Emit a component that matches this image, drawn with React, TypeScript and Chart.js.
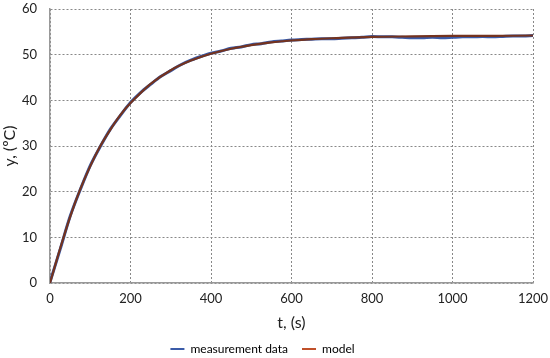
import React, { useEffect, useRef } from "react";
import { Chart, registerables } from "chart.js";

Chart.register(...registerables);

const measTime = [0, 25, 50, 75, 100, 125, 150, 175, 200, 225, 250, 275, 300, 325, 350, 375, 400, 425, 450, 475, 500, 525, 550, 575, 600, 625, 650, 675, 700, 725, 750, 775, 800, 825, 850, 875, 900, 925, 950, 975, 1000, 1025, 1050, 1075, 1100, 1125, 1150, 1175, 1200];
const measTemp = [0.2, 7.3, 14.6, 20.4, 25.7, 29.9, 33.7, 36.7, 39.5, 41.7, 43.5, 45.2, 46.5, 47.8, 48.8, 49.6, 50.3, 50.8, 51.4, 51.7, 52.2, 52.4, 52.8, 53.0, 53.2, 53.3, 53.4, 53.5, 53.5, 53.6, 53.7, 53.8, 54.0, 53.9, 53.9, 53.8, 53.7, 53.7, 53.8, 53.7, 53.8, 53.9, 53.9, 54.0, 53.9, 54.0, 54.1, 54.1, 54.2];

const modelTime = [0, 25, 50, 75, 100, 125, 150, 175, 200, 250, 300, 350, 400, 450, 500, 550, 600, 650, 700, 800, 900, 1000, 1100, 1200];
const modelTemp = [0, 7.5, 14.5, 20.5, 25.6, 30.0, 33.6, 36.8, 39.4, 43.6, 46.6, 48.7, 50.2, 51.3, 52.1, 52.7, 53.1, 53.4, 53.6, 53.9, 54.0, 54.1, 54.1, 54.2];

const xTicks = [0, 200, 400, 600, 800, 1000, 1200];
const yTicks = [0, 10, 20, 30, 40, 50, 60];

const FONT = "Lato, 'Open Sans', sans-serif";

const legendShift = {
  id: "legendShift",
  afterLayout(chart: any) {
    const l = chart.legend;
    if (l) {
      l.top -= 12;
      l.bottom -= 12;
      l.left -= 4;
      l.right -= 4;
    }
  },
};

export default function App() {
  const ref = useRef<HTMLCanvasElement>(null);
  useEffect(() => {
    document.body.style.margin = "0";
    const ctx = ref.current!;
    const chart = new Chart(ctx, {
      type: "line",
      plugins: [legendShift],
      data: {
        datasets: [
          {
            label: "measurement data",
            data: measTime.map((t, i) => ({ x: t, y: measTemp[i] })),
            borderColor: "#3A5BA8",
            backgroundColor: "#3A5BA8",
            borderWidth: 3,
            pointRadius: 0,
            tension: 0.3,
            order: 2,
          },
          {
            label: "model",
            data: modelTime.map((t, i) => ({ x: t, y: modelTemp[i] })),
            borderColor: "#74331F",
            backgroundColor: "#74331F",
            borderWidth: 2.2,
            pointRadius: 0,
            tension: 0.3,
            order: 1,
          },
        ],
      },
      options: {
        animation: false,
        responsive: false,
        maintainAspectRatio: false,
        layout: { padding: { left: 0, right: 17, top: 9, bottom: -19 } },
        plugins: {
          tooltip: { enabled: false },
          legend: {
            position: "bottom",
            labels: {
              boxWidth: 14,
              boxHeight: 0,
              padding: 14,
              color: "#222",
              font: { family: FONT, size: 12 },
              sort: (a, b) => a.datasetIndex! - b.datasetIndex!,
              generateLabels: (c) =>
                c.data.datasets.map((d, i) => ({
                  text: d.label as string,
                  strokeStyle: i === 0 ? "#3A5BA8" : "#C0502A",
                  fillStyle: i === 0 ? "#3A5BA8" : "#C0502A",
                  lineWidth: 2,
                  datasetIndex: i,
                  hidden: false,
                })),
            },
          },
        },
        scales: {
          x: {
            type: "linear",
            min: 0,
            max: 1200,
            afterBuildTicks: (s) => {
              s.ticks = xTicks.map((v) => ({ value: v }));
            },
            afterFit: (s: any) => {
              s.height = 58;
              s.paddingLeft = 0;
              s.paddingRight = 0;
            },
            grid: { color: "#888", drawTicks: false, lineWidth: 1 },
            border: { color: "#999", width: 1.5, dash: [2, 2] },
            ticks: {
              color: "#222",
              font: { family: FONT, size: 13 },
              padding: 8,
              maxRotation: 0,
              callback: (v) => String(v),
            },
            title: { display: true, text: "t, (s)", color: "#222", font: { family: FONT, size: 16 }, padding: { top: 2, bottom: 9 } },
          },
          y: {
            type: "linear",
            min: 0,
            max: 60,
            afterBuildTicks: (s) => {
              s.ticks = yTicks.map((v) => ({ value: v }));
            },
            afterFit: (s: any) => {
              s.width = 50;
              s.paddingTop = 0;
              s.paddingBottom = 0;
            },
            grid: { color: "#888", drawTicks: false, lineWidth: 1 },
            border: { color: "#999", width: 1.5, dash: [2, 2] },
            ticks: { color: "#222", font: { family: FONT, size: 13 }, padding: 13, callback: (v) => String(v) },
            title: { display: true, text: "y, (ºC)", color: "#222", font: { family: FONT, size: 16 }, padding: { top: 0, bottom: 2 } },
          },
        },
      },
    });
    return () => chart.destroy();
  }, []);
  return (
    <div style={{ position: "fixed", left: 0, top: 0, width: 550, height: 358, background: "#fff" }}>
      <canvas ref={ref} width={550} height={358} style={{ width: 550, height: 358 }} />
    </div>
  );
}
